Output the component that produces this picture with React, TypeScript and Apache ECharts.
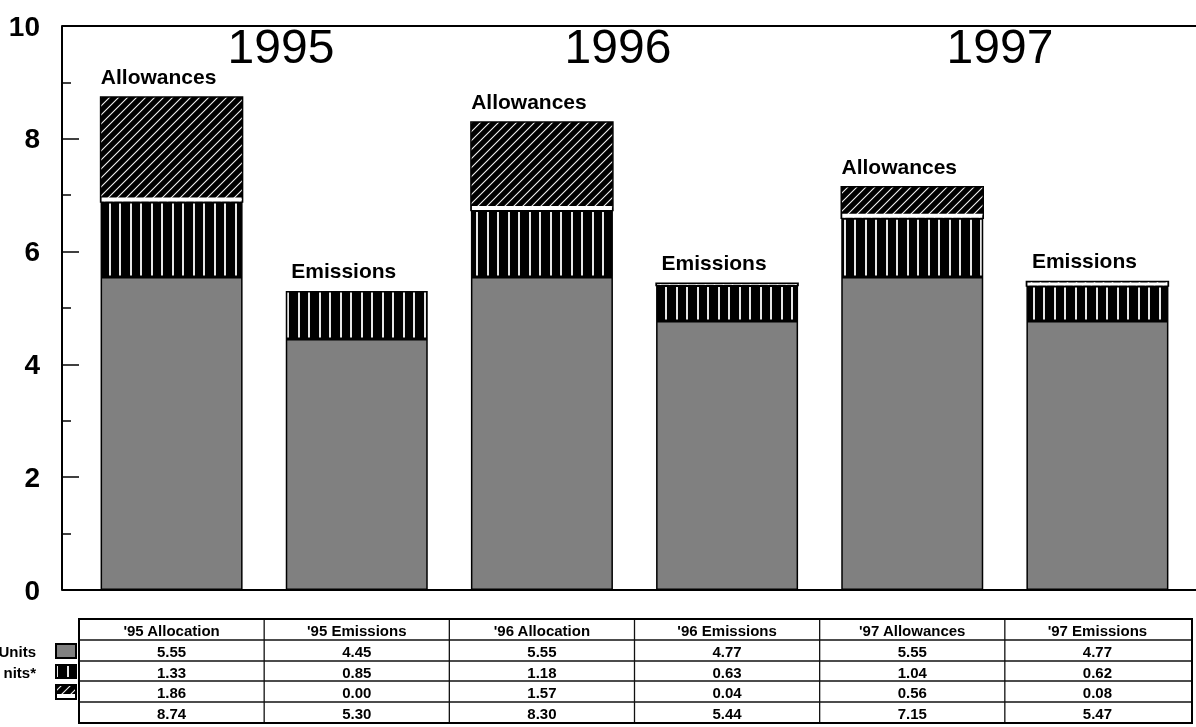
import React, { useEffect, useRef } from "react";
import * as echarts from "echarts";

const categories = ["'95 Allocation", "'95 Emissions", "'96 Allocation", "'96 Emissions", "'97 Allowances", "'97 Emissions"];
const barLabels = ["Allowances", "Emissions", "Allowances", "Emissions", "Allowances", "Emissions"];
const yearLabels = ["1995", "1996", "1997"];
const unitsValues = [5.55, 4.45, 5.55, 4.77, 5.55, 4.77];
const substitutionValues = [1.33, 0.85, 1.18, 0.63, 1.04, 0.62];
const bankedValues = [1.86, 0.0, 1.57, 0.04, 0.56, 0.08];
const totalValues = [8.74, 5.3, 8.3, 5.44, 7.15, 5.47];
const rowLabels = ["Units", "nits*", "", ""];

const FONT = '"Liberation Sans", Arial, sans-serif';

function makeStripe() {
  const c = document.createElement("canvas");
  c.width = 21;
  c.height = 4;
  const g = c.getContext("2d")!;
  g.fillStyle = "#000";
  g.fillRect(0, 0, 21, 4);
  g.fillStyle = "#e6e6e6";
  g.fillRect(4, 0, 2, 4);
  g.fillRect(14, 0, 2, 4);
  return { image: c, repeat: "repeat", imageWidth: 21, imageHeight: 4 };
}

function makeHatch() {
  const c = document.createElement("canvas");
  c.width = 9;
  c.height = 9;
  const g = c.getContext("2d")!;
  g.fillStyle = "#000";
  g.fillRect(0, 0, 9, 9);
  g.strokeStyle = "#f2f2f2";
  g.lineWidth = 1.1;
  g.beginPath();
  g.moveTo(-1, 10);
  g.lineTo(10, -1);
  g.moveTo(-1, 1);
  g.lineTo(1, -1);
  g.moveTo(8, 10);
  g.lineTo(10, 8);
  g.stroke();
  return { image: c, repeat: "repeat", imageWidth: 9, imageHeight: 9 };
}

export default function App() {
  const ref = useRef<HTMLDivElement>(null);
  useEffect(() => {
    if (!ref.current) return;
    const chart = echarts.init(ref.current, undefined, { renderer: "svg" });
    const stripe = makeStripe();
    const hatch = makeHatch();

    const gridLeft = 79;
    const gridRight = 1190;
    const colW = (gridRight - gridLeft) / categories.length;
    const rowY = [619, 640, 661, 681, 702, 723];

    const graphic: any[] = [];
    graphic.push({ type: "line", shape: { x1: 62, y1: 26, x2: 1196, y2: 26 }, style: { stroke: "#000", lineWidth: 2 } });
    graphic.push({ type: "line", shape: { x1: 62, y1: 590, x2: 1196, y2: 590 }, style: { stroke: "#000", lineWidth: 2 }, z: 10 });
    const yearX = [281, 618, 1000];
    yearLabels.forEach((t, i) => {
      graphic.push({
        type: "text",
        x: yearX[i],
        y: 46,
        style: { text: t, font: `48px ${FONT}`, textAlign: "center", textVerticalAlign: "middle", fill: "#000" },
        z: 20,
      });
    });
    const tTop = rowY[0];
    const tBottom = rowY[rowY.length - 1];
    for (let r = 1; r < rowY.length - 1; r++) {
      graphic.push({ type: "line", shape: { x1: gridLeft, y1: rowY[r], x2: gridRight + 2, y2: rowY[r] }, style: { stroke: "#111", lineWidth: 1.3 } });
    }
    for (let c = 1; c < categories.length; c++) {
      const x = gridLeft + c * colW;
      graphic.push({ type: "line", shape: { x1: x, y1: tTop, x2: x, y2: tBottom }, style: { stroke: "#111", lineWidth: 1.3 } });
    }
    graphic.push({
      type: "rect",
      shape: { x: gridLeft, y: tTop, width: gridRight + 2 - gridLeft, height: tBottom - tTop },
      style: { fill: "none", stroke: "#000", lineWidth: 2 },
    });
    const rows = [unitsValues, substitutionValues, bankedValues, totalValues];
    categories.forEach((cat, c) => {
      const cx = gridLeft + (c + 0.5) * colW;
      graphic.push({
        type: "text",
        x: cx,
        y: (rowY[0] + rowY[1]) / 2 + 1,
        style: { text: cat, font: `bold 15px ${FONT}`, textAlign: "center", textVerticalAlign: "middle", fill: "#000" },
      });
      rows.forEach((arr, r) => {
        graphic.push({
          type: "text",
          x: cx,
          y: (rowY[r + 1] + rowY[r + 2]) / 2 + 1,
          style: { text: arr[c].toFixed(2), font: `bold 15px ${FONT}`, textAlign: "center", textVerticalAlign: "middle", fill: "#000" },
        });
      });
    });
    rowLabels.forEach((lab, r) => {
      const cy = (rowY[r + 1] + rowY[r + 2]) / 2 + 1;
      if (lab) {
        graphic.push({
          type: "text",
          x: 36,
          y: cy,
          style: { text: lab, font: `bold 15px ${FONT}`, textAlign: "right", textVerticalAlign: "middle", fill: "#000" },
        });
      }
    });
    const iconFills = ["#808080", stripe, hatch];
    iconFills.forEach((f, r) => {
      const y0 = rowY[r + 1] + 4;
      const y1 = rowY[r + 2] - 3;
      graphic.push({
        type: "rect",
        shape: { x: 56, y: y0, width: 20, height: y1 - y0 },
        style: { fill: f, stroke: "#000", lineWidth: 2 },
      });
      if (r === 2) {
        graphic.push({ type: "rect", shape: { x: 57, y: y1 - 5, width: 18, height: 4 }, style: { fill: "#fff" } });
      }
    });

    const customData = categories.map((_, i) => [i, unitsValues[i] + substitutionValues[i], bankedValues[i]]);

    chart.setOption({
      animation: false,
      grid: { left: gridLeft, right: 1196 - gridRight, top: 26, bottom: 727 - 590, containLabel: false },
      xAxis: {
        type: "category",
        data: categories,
        axisLine: { show: false },
        axisTick: { show: false },
        axisLabel: { show: false },
      },
      yAxis: {
        type: "value",
        min: 0,
        max: 10,
        interval: 2,
        offset: 17,
        axisLine: { show: true, lineStyle: { color: "#000", width: 2 } },
        axisTick: { show: true, inside: true, length: 17, lineStyle: { color: "#000", width: 1.5 } },
        minorTick: { show: true, splitNumber: 2, length: 9, lineStyle: { color: "#000", width: 1.5 } },
        splitLine: { show: false },
        axisLabel: { margin: 22, fontSize: 28, fontWeight: "bold", fontFamily: FONT, color: "#000" },
      },
      series: [
        {
          type: "bar",
          stack: "a",
          data: unitsValues,
          barWidth: 142,
          itemStyle: { color: "#808080", borderColor: "#000", borderWidth: 1.5 },
        },
        {
          type: "bar",
          stack: "a",
          data: substitutionValues,
          barWidth: 142,
          itemStyle: { color: stripe as any, borderColor: "#000", borderWidth: 1.5 },
        },
        {
          type: "custom",
          data: customData,
          z: 5,
          renderItem: (params: any, api: any) => {
            const idx = api.value(0);
            const base = api.value(1);
            const v = api.value(2);
            const pTop = api.coord([idx, base + v]);
            const pBase = api.coord([idx, base]);
            const w = 142;
            const x = pTop[0] - w / 2;
            const h = pBase[1] - pTop[1];
            const children: any[] = [];
            if (v > 0) {
              children.push({
                type: "rect",
                shape: { x, y: pTop[1], width: w, height: h },
                style: { fill: hatch, stroke: "#000", lineWidth: 1.5 },
              });
              const bh = Math.min(4, Math.max(h - 1.5, 0));
              children.push({
                type: "rect",
                shape: { x: x + 1, y: pBase[1] - bh - 0.5, width: w - 2, height: bh },
                style: { fill: "#fff" },
              });
            }
            children.push({
              type: "text",
              x: pTop[0] - 13,
              y: pTop[1] - 10,
              style: {
                text: barLabels[idx],
                font: `bold 21px ${FONT}`,
                textAlign: "center",
                textVerticalAlign: "bottom",
                fill: "#000",
              },
            });
            return { type: "group", children };
          },
        },
      ],
      graphic,
    });
    return () => chart.dispose();
  }, []);
  return <div ref={ref} style={{ position: "fixed", left: 0, top: 0, width: 1196, height: 727 }} />;
}
